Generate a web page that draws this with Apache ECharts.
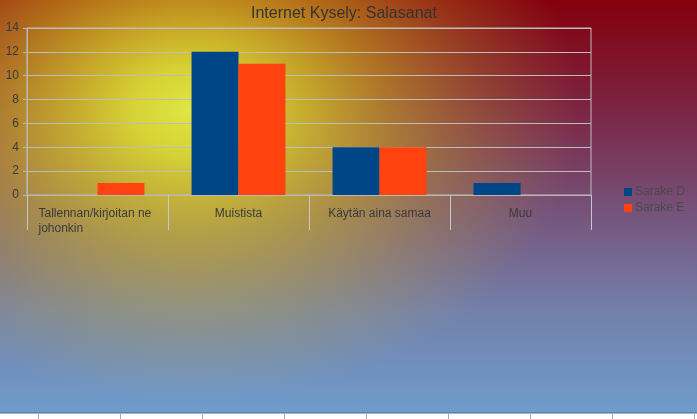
<!DOCTYPE html>
<html lang="fi">
  <head>
    <meta charset="UTF-8" />
    <title>Internet Kysely: Salasanat</title>
    <script src="https://cdn.jsdelivr.net/npm/echarts@6/dist/echarts.min.js"></script>
    <style>
      html, body { margin: 0; padding: 0; background: #fff; }
      #chart { width: 697px; height: 419px; }
    </style>
  </head>
  <body>
    <div id="chart"></div>
    <script>
      // data
      var categories = ["Tallennan/kirjoitan ne\njohonkin", "Muistista", "Käytän aina samaa", "Muu"];
      var sarakeD = [0, 12, 4, 1];
      var sarakeE = [1, 11, 4, 0];
      var seriesNames = ["Sarake D", "Sarake E"];

      var W = 697, H = 413; // painted area, white ruler strip below
      var font = "Liberation Sans";
      var glowScale = 0.744; // squashes the yellow glow vertically

      // ruler ticks under the picture
      var ruler = [
        { type: "rect", shape: { x: 0, y: H, width: W, height: 419 - H }, style: { fill: "#fff" }, z: -8 },
        { type: "line", shape: { x1: 0, y1: H, x2: W, y2: H }, style: { stroke: "#3f6f9f", lineWidth: 1 }, z: -8 }
      ];
      for (var x = 38.5; x < W; x += 82) {
        ruler.push({ type: "line", shape: { x1: x, y1: H + 1, x2: x, y2: 419 }, style: { stroke: "#aaa", lineWidth: 1 }, z: -8 });
      }

      var myChart = echarts.init(document.getElementById("chart"));
      var option = {
        animation: false,
        textStyle: { fontFamily: font },
        graphic: [
          {
            type: "rect",
            shape: { x: 0, y: 0, width: W, height: H },
            style: {
              fill: new echarts.graphic.LinearGradient(0, 0, 0, 1, [
                { offset: 0, color: "#84000c" },
                { offset: 0.25, color: "#7c2240" },
                { offset: 0.5, color: "#765078" },
                { offset: 0.75, color: "#7380aa" },
                { offset: 1, color: "#6f9ccc" }
              ])
            },
            z: -10
          },
          {
            // yellow glow
            type: "rect",
            scaleY: glowScale,
            shape: { x: 0, y: 0, width: W, height: H / glowScale },
            style: {
              fill: new echarts.graphic.RadialGradient(190, 110 / glowScale, 390, [
                { offset: 0, color: "rgba(224,230,66,1)" },
                { offset: 0.15, color: "rgba(222,224,52,0.92)" },
                { offset: 0.3, color: "rgba(220,212,40,0.76)" },
                { offset: 0.5, color: "rgba(218,198,30,0.52)" },
                { offset: 0.75, color: "rgba(210,185,40,0.24)" },
                { offset: 1, color: "rgba(200,180,60,0)" }
              ], true)
            },
            z: -9
          }
        ].concat(ruler),
        title: {
          text: "Internet Kysely: Salasanat",
          left: 246,
          top: 1,
          textStyle: { color: "#333", fontSize: 16, fontWeight: "normal", fontFamily: font }
        },
        legend: {
          orient: "vertical",
          left: 619,
          top: 181,
          icon: "rect",
          itemWidth: 8,
          itemHeight: 8,
          itemGap: 4,
          textStyle: { color: "#4a4a4a", fontSize: 12, fontFamily: font, padding: [0, 0, 0, -2] },
          data: seriesNames
        },
        grid: {
          left: 27,
          right: 106,
          top: 28,
          bottom: 224,
          show: true,
          borderColor: "#bdbdbd",
          borderWidth: 1
        },
        xAxis: {
          type: "category",
          data: categories,
          axisLine: { show: true, lineStyle: { color: "#b8b8b8" } },
          axisTick: { show: true, alignWithLabel: false, length: 35, lineStyle: { color: "#c8c8c8" } },
          axisLabel: {
            interval: 0,
            color: "#3a3a3a",
            fontSize: 12,
            margin: 11,
            lineHeight: 15,
            formatter: function (v) {
              if (v.indexOf("\n") < 0) return v;
              return v.split("\n").map(function (s) { return "{l|" + s + "}"; }).join("\n");
            },
            rich: { l: { width: 118, align: "left", fontSize: 12, color: "#3a3a3a", lineHeight: 15 } }
          }
        },
        yAxis: {
          type: "value",
          min: 0,
          max: 14,
          interval: 2,
          axisLine: { show: true, lineStyle: { color: "#b8b8b8" } },
          axisTick: { show: true, length: 4, lineStyle: { color: "#b8b8b8" } },
          axisLabel: { color: "#3a3a3a", fontSize: 12, margin: 8 },
          splitLine: { show: true, lineStyle: { color: "#bdbdbd" } }
        },
        series: [
          {
            name: seriesNames[0],
            type: "bar",
            data: sarakeD,
            barGap: 0,
            barCategoryGap: "33.4%",
            itemStyle: { color: "#004586" }
          },
          {
            name: seriesNames[1],
            type: "bar",
            data: sarakeE,
            barGap: 0,
            barCategoryGap: "33.4%",
            itemStyle: { color: "#ff420e" }
          }
        ]
      };
      option && myChart.setOption(option);
    </script>
  </body>
</html>
